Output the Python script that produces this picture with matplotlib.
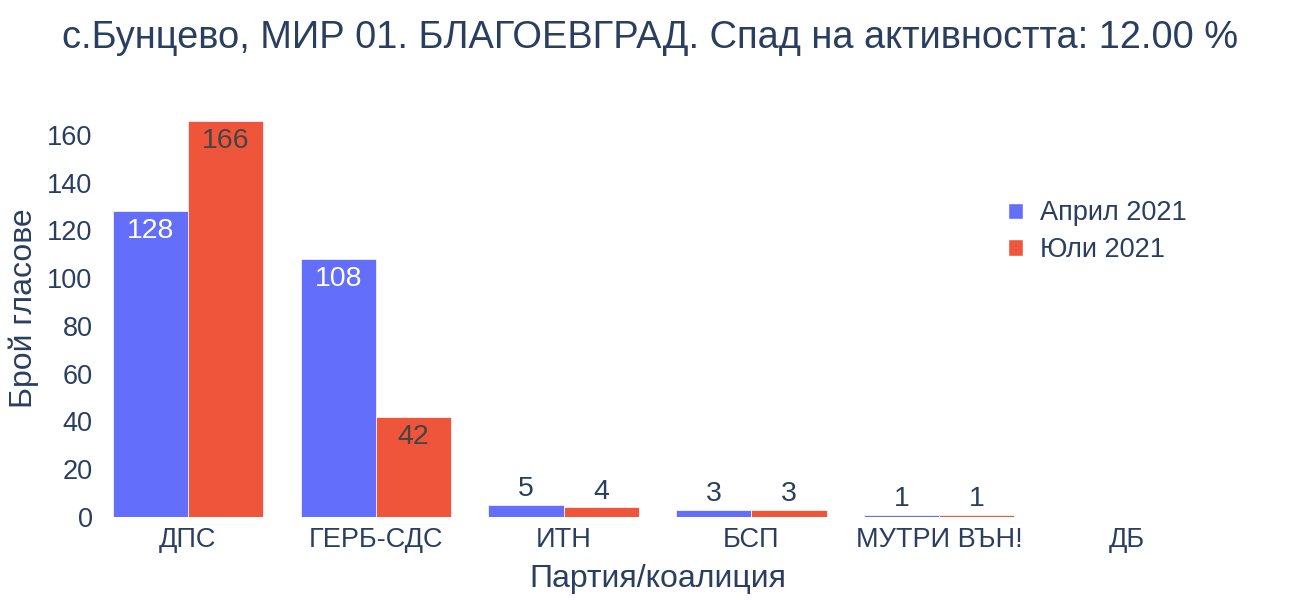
import matplotlib
matplotlib.use("Agg")
import matplotlib.pyplot as plt
import numpy as np
from matplotlib.patches import Patch

plt.rcParams['font.family'] = ['Liberation Sans', 'DejaVu Sans']

categories = ["ДПС", "ГЕРБ-СДС", "ИТН", "БСП", "МУТРИ ВЪН!", "ДБ"]
april = [128, 108, 5, 3, 1, 0]
july = [166, 42, 4, 3, 1, 0]
series_names = ["Април 2021", "Юли 2021"]
title = "с.Бунцево, МИР 01. БЛАГОЕВГРАД. Спад на активността: 12.00 %"

txt = "#2a3f5f"
blue = "#636efa"
red = "#EF553B"

fig = plt.figure(figsize=(13, 6), dpi=100)
ax = fig.add_axes([94/1300, (600-517)/600, (1221-94)/1300, (517-100)/600])

x = np.arange(len(categories))
w = 0.4
b1 = ax.bar(x - w/2, april, w, color=blue, edgecolor="white", linewidth=0.5)
b2 = ax.bar(x + w/2, july, w, color=red, edgecolor="white", linewidth=0.5)

ymax = max(max(april), max(july)) * 1.052
ax.set_ylim(0, ymax)
ax.set_xlim(-0.5, len(categories) - 0.5)

fs_lab = 20.5
for bars, vals, inside_col in ((b1, april, "white"), (b2, july, "#444444")):
    for r, v in zip(bars, vals):
        if v == 0:
            continue
        cx = r.get_x() + r.get_width()/2
        if v > 20:
            ax.annotate(str(v), (cx, v), xytext=(0, -5), textcoords="offset points",
                        ha="center", va="top", fontsize=fs_lab, color=inside_col)
        else:
            ax.annotate(str(v), (cx, v), xytext=(0, 2), textcoords="offset points",
                        ha="center", va="bottom", fontsize=fs_lab, color=txt)

for s in ax.spines.values():
    s.set_visible(False)
ax.set_xticks(x)
ax.set_xticklabels(categories)
ax.set_yticks(np.arange(0, 161, 20))
ax.tick_params(axis="both", length=0, labelsize=19.5, labelcolor=txt)
ax.tick_params(axis="y", pad=1)
ax.tick_params(axis="x", pad=7)
ax.set_ylabel("Брой гласове", fontsize=23, color=txt, labelpad=6)
ax.set_xlabel("Партия/коалиция", fontsize=23, color=txt, labelpad=8)

fig.text(0.5, 1 - 38/600, title, ha="center", va="center", fontsize=27.4, color=txt)

handles = [Patch(facecolor=blue, edgecolor="white"), Patch(facecolor=red, edgecolor="white")]
leg = ax.legend(handles, series_names, loc="upper left", bbox_to_anchor=(984/1300, 1 - 176/600),
                bbox_transform=fig.transFigure, frameon=False, fontsize=19.5,
                handlelength=0.55, handleheight=0.55, handletextpad=0.6, labelspacing=0.4)
for t in leg.get_texts():
    t.set_color(txt)

fig.savefig("out.png", dpi=100, facecolor="white")
